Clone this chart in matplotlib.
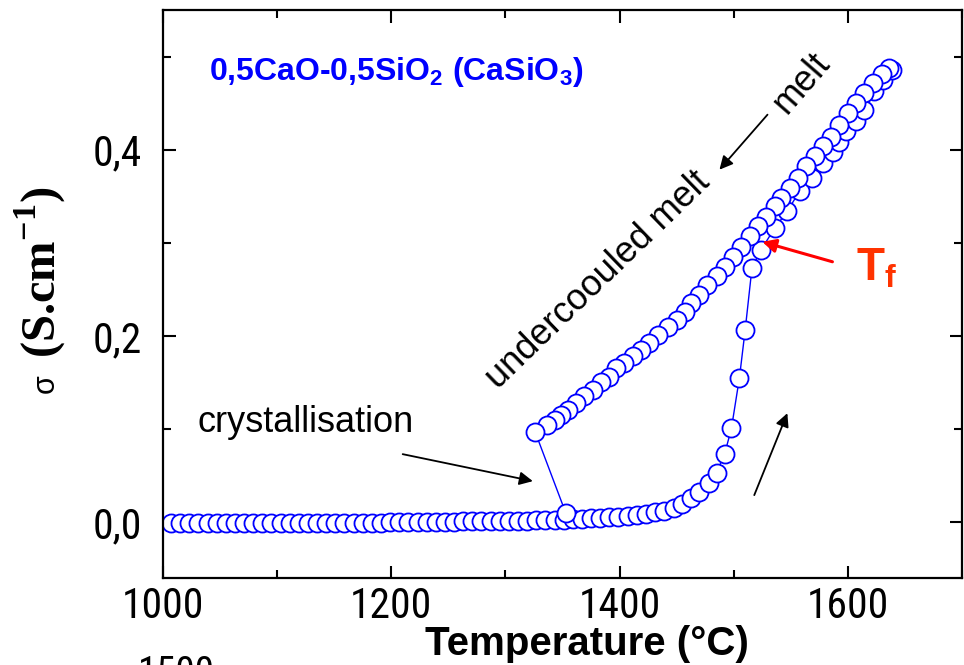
import matplotlib
matplotlib.use("Agg")
import matplotlib.pyplot as plt
from matplotlib.ticker import FixedLocator, MultipleLocator
from matplotlib import font_manager

names = {f.name for f in font_manager.fontManager.ttflist}
narrow = 'Liberation Sans'
for cand in ['Liberation Sans Narrow', 'Arial Narrow', 'Roboto Condensed', 'Archivo Narrow',
             'Asap Condensed', 'Barlow Condensed']:
    if cand in names:
        narrow = cand
        break

plt.rcParams['font.family'] = ['Liberation Sans', 'DejaVu Sans']
plt.rcParams['mathtext.fontset'] = 'custom'
plt.rcParams['mathtext.bf'] = 'Liberation Serif:bold'
plt.rcParams['mathtext.sf'] = 'Liberation Sans:bold'
plt.rcParams['mathtext.rm'] = 'Liberation Sans'

# ---- data ----
heat_T = [1007, 1015, 1023, 1031, 1039, 1047, 1055, 1063, 1071, 1079, 1087, 1095,
          1103, 1111, 1119, 1127, 1135, 1143, 1151, 1159, 1167, 1175, 1183, 1191,
          1199, 1207, 1215, 1223, 1231, 1239, 1247, 1255, 1263, 1271, 1279, 1287,
          1295, 1303, 1311, 1319, 1327, 1335, 1343, 1351, 1359, 1367, 1375, 1383,
          1391, 1399, 1407, 1415, 1423, 1431, 1439, 1448, 1455, 1463, 1470, 1478,
          1485, 1492, 1498, 1505, 1510, 1516, 1524, 1536, 1547, 1558, 1569, 1578,
          1587, 1592, 1598, 1607, 1614, 1623, 1631, 1639]
heat_S = [-0.001, -0.001, -0.001, -0.001, -0.001, -0.001, -0.001, -0.001, -0.001, -0.001, -0.001, -0.001,
          -0.001, -0.001, -0.001, -0.001, -0.001, -0.001, -0.0005, -0.0005, -0.0005, -0.0005, -0.0005, -0.0005,
          0.000, 0.000, 0.000, 0.000, 0.000, 0.0003, 0.0005, 0.0005, 0.0008, 0.001, 0.001, 0.001,
          0.0012, 0.0013, 0.0015, 0.0017, 0.002, 0.002, 0.0023, 0.0025, 0.003, 0.0035, 0.004, 0.0045,
          0.005, 0.0055, 0.0065, 0.0075, 0.009, 0.0105, 0.012, 0.0147, 0.019, 0.0255, 0.0326, 0.042,
          0.053, 0.073, 0.1007, 0.155, 0.206, 0.273, 0.2925, 0.316, 0.334, 0.356, 0.370, 0.386,
          0.397, 0.408, 0.420, 0.431, 0.443, 0.463, 0.475, 0.486]

cool_T = [1636, 1630, 1622, 1614, 1607, 1600, 1592, 1585, 1578, 1571, 1563, 1556,
          1549, 1541, 1536, 1528, 1521, 1514, 1506, 1499, 1492, 1485, 1477, 1470,
          1463, 1457, 1450, 1442, 1434, 1426, 1419, 1412, 1404, 1397, 1391, 1384,
          1377, 1369, 1362, 1355, 1349, 1343, 1336, 1326, 1353]
cool_S = [0.488, 0.481, 0.472, 0.461, 0.450, 0.439, 0.427, 0.414, 0.404, 0.393, 0.382, 0.370,
          0.359, 0.348, 0.339, 0.328, 0.3175, 0.307, 0.296, 0.285, 0.2745, 0.264, 0.255, 0.244,
          0.235, 0.226, 0.217, 0.210, 0.201, 0.192, 0.185, 0.178, 0.171, 0.165, 0.156, 0.151,
          0.142, 0.135, 0.128, 0.120, 0.115, 0.110, 0.104, 0.097, 0.0094]

x_ticks = [1000, 1200, 1400, 1600]
x_ticklabels = ['1000', '1200', '1400', '1600']
y_ticks = [0.0, 0.2, 0.4]
y_ticklabels = ['0,0', '0,2', '0,4']

W, H = 964, 665
fig = plt.figure(figsize=(W / 100, H / 100), dpi=100)
ax = fig.add_axes([163 / W, 1 - 578 / H, (962 - 163) / W, (578 - 10) / H])

blue = '#0000ff'
mk = dict(marker='o', markersize=13, markerfacecolor='white', markeredgecolor=blue,
          markeredgewidth=1.3, color=blue, linewidth=1.0)
ax.plot(heat_T, heat_S, **mk)
ax.plot(cool_T, cool_S, **mk)

ax.set_xlim(1000, 1700)
ax.set_ylim(-0.06, 0.55)
ax.xaxis.set_major_locator(FixedLocator(x_ticks))
ax.set_xticklabels(x_ticklabels)
ax.xaxis.set_minor_locator(MultipleLocator(100))
ax.yaxis.set_major_locator(FixedLocator(y_ticks))
ax.set_yticklabels(y_ticklabels)
ax.yaxis.set_minor_locator(MultipleLocator(0.1))
ax.tick_params(which='both', direction='in', top=True, right=True, width=1.5)
ax.tick_params(which='major', length=9)
ax.tick_params(which='minor', length=6)
ax.tick_params(axis='x', pad=6)
ax.tick_params(axis='y', pad=15)
for lab in ax.get_xticklabels() + ax.get_yticklabels():
    lab.set_family([narrow, 'Liberation Sans'])
    lab.set_fontsize(30)
for s in ax.spines.values():
    s.set_linewidth(1.6)

ax.set_xlabel('Temperature (°C)', fontsize=29, fontweight='bold',
              family=['Liberation Sans', 'DejaVu Sans'])
ax.xaxis.set_label_coords(0.531, -0.082)
fig.text(40 / W, 1 - 272 / H, '(S.cm$^{\\mathbf{-1}}$)', rotation=90, ha='center', va='center',
         fontsize=35, fontweight='bold', family=['Liberation Serif', 'DejaVu Serif'])
fig.text(46 / W, 1 - 384 / H, 'σ', rotation=90, ha='center', va='center',
         fontsize=22, family=['Liberation Sans', 'DejaVu Sans'])

# annotations
ax.text(0.058, 0.891, '0,5CaO-0,5SiO$_\\mathsf{2}$ (CaSiO$_\\mathsf{3}$)', transform=ax.transAxes,
        color=blue, fontsize=23, fontweight='bold', ha='left', va='center')
ax.text(1560, 0.471, 'melt', rotation=49, fontsize=26, ha='center', va='center')
ax.annotate('', xy=(1487.5, 0.3785), xytext=(1529.6, 0.4376),
            arrowprops=dict(arrowstyle='-|>', color='black', lw=1.3, mutation_scale=20,
                            shrinkA=0, shrinkB=0))
ax.text(1381, 0.26, 'undercoouled melt', rotation=44, fontsize=26, ha='center', va='center')
ax.text(1030, 0.1065, 'crystallisation', fontsize=26, ha='left', va='center')
ax.annotate('', xy=(1324, 0.044), xytext=(1210, 0.073),
            arrowprops=dict(arrowstyle='-|>', color='black', lw=1.3, mutation_scale=20,
                            shrinkA=0, shrinkB=0))
ax.annotate('', xy=(1547, 0.117), xytext=(1518, 0.029),
            arrowprops=dict(arrowstyle='-|>', color='black', lw=1.3, mutation_scale=20,
                            shrinkA=0, shrinkB=0))
ax.annotate('', xy=(1525, 0.301), xytext=(1586.5, 0.2796),
            arrowprops=dict(arrowstyle='-|>', color='red', lw=2.2, mutation_scale=20,
                            shrinkA=0, shrinkB=0))
ax.text(1607, 0.272, 'T$_\\mathsf{f}$', color='#ff3300', fontsize=33, fontweight='bold',
        ha='left', va='center')

fig.text(138 / W, 1 - 655 / H, '1500', fontsize=28, ha='left', va='top',
         family=[narrow, 'Liberation Sans'])

fig.savefig('out.png', dpi=100)
